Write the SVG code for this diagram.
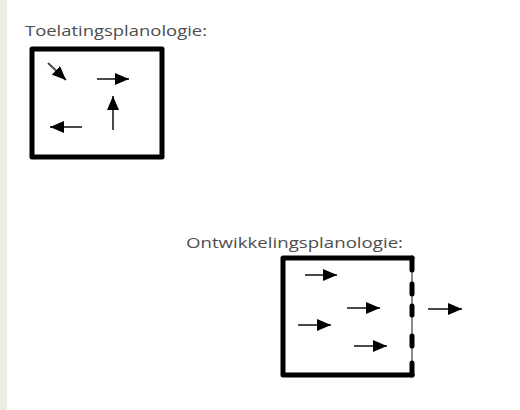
<svg xmlns="http://www.w3.org/2000/svg" width="520" height="410" viewBox="0 0 520 410">
  <style>
    .title { font-family: "Open Sans", "Liberation Sans", sans-serif; font-size: 15px; fill: #4d4d4d; }
    .frame { fill: none; stroke: #000000; stroke-width: 5; stroke-linecap: round; stroke-linejoin: round; }
    .arrow { fill: none; stroke: #4a4a4a; stroke-width: 2; marker-end: url(#head); }
  </style>
  <defs>
    <marker id="head" markerUnits="userSpaceOnUse" markerWidth="14" markerHeight="12" refX="14" refY="6" orient="auto">
      <path d="M0,0 L14,6 L0,12 Z" fill="#000000"/>
    </marker>
  </defs>

  <!-- page background with side strip -->
  <rect x="0" y="0" width="520" height="410" fill="#ffffff"/>
  <rect x="0" y="0" width="7" height="410" fill="#eeebe0"/>

  <!-- permissive planning: closed frame, arrows in all directions -->
  <g id="toelatingsplanologie">
    <text class="title" x="25" y="36" textLength="182" lengthAdjust="spacingAndGlyphs">Toelatingsplanologie:</text>
    <rect class="frame" x="32" y="49" width="130" height="108"/>
  </g>

  <!-- development planning: frame open on the right -->
  <g id="ontwikkelingsplanologie">
    <text class="title" x="186" y="248" textLength="217" lengthAdjust="spacingAndGlyphs">Ontwikkelingsplanologie:</text>
    <path class="frame" d="M412,258 L283,258 L283,375 L412,375"/>
    <line x1="412" y1="258" x2="412" y2="375" stroke="#8a8a8a" stroke-width="2"/>
    <g stroke="#000000" stroke-width="5" stroke-linecap="round">
      <line x1="412" y1="258" x2="412" y2="270"/>
      <line x1="412" y1="284" x2="412" y2="294"/>
      <line x1="412" y1="306" x2="412" y2="315"/>
      <line x1="412" y1="336" x2="412" y2="346"/>
      <line x1="412" y1="363" x2="412" y2="375"/>
    </g>
  </g>

  <g id="connectors">
    <!-- arrows inside the closed frame -->
    <line class="arrow" x1="48" y1="63" x2="66" y2="80"/>
    <line class="arrow" x1="97" y1="79" x2="129" y2="79"/>
    <line class="arrow" x1="113" y1="130" x2="113" y2="96"/>
    <line class="arrow" x1="82" y1="127" x2="50" y2="127"/>
    <!-- arrows inside the open frame -->
    <line class="arrow" x1="305" y1="275" x2="337" y2="275"/>
    <line class="arrow" x1="347" y1="308" x2="380" y2="308"/>
    <line class="arrow" x1="298" y1="325" x2="331" y2="325"/>
    <line class="arrow" x1="354" y1="346" x2="387" y2="346"/>
    <!-- arrow leaving through the open side -->
    <line class="arrow" x1="428" y1="309" x2="462" y2="309"/>
  </g>
</svg>
